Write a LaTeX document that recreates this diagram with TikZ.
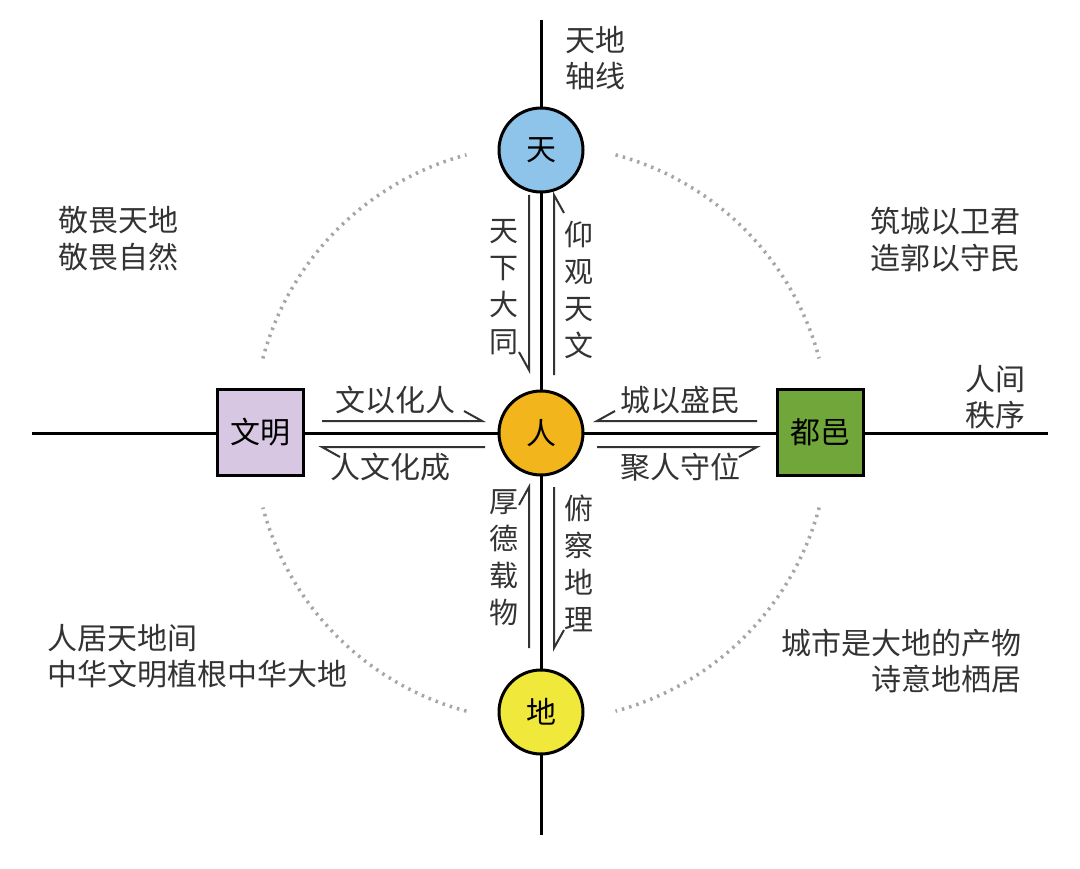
\documentclass[tikz,border=0pt]{standalone}
\usepackage{fontspec}
\newfontfamily\cjk{Noto Sans CJK SC}
\begin{document}
\begin{tikzpicture}[x=1pt,y=-1pt,
  lab/.style={font=\cjk\fontsize{30}{34}\selectfont,text=black!80,inner sep=0pt},
  vlab/.style={lab,align=center,font=\cjk\fontsize{29}{37}\selectfont},
  circ/.style={circle,draw,line width=3pt,minimum size=84pt,font=\cjk\fontsize{30}{34}\selectfont},
  sq/.style={draw,line width=3pt,minimum size=86pt,font=\cjk\fontsize{30}{34}\selectfont},
  axis/.style={line width=3pt},
  thin/.style={line width=2pt,black!80},
  dots/.style={line width=3.5pt,gray!70,dash pattern=on 2.5pt off 5pt}]
\useasboundingbox (0,0) rectangle (1080,869);
\coordinate (axT) at (541,20); \coordinate (axB) at (541,835);
\coordinate (axL) at (32,433); \coordinate (axR) at (1048,433);
\draw[axis] (axT)--(axB); \draw[axis] (axL)--(axR);
\foreach \a in {15,105,195,285} \draw[dots] (541,433) ++(\a:288) arc[start angle=\a,end angle=\a+60,radius=288];
\node[circ,fill={rgb,255:red,142;green,195;blue,234}] (tian) at (541,150) {天};
\node[circ,fill={rgb,255:red,242;green,182;blue,28}] (ren) at (541,433) {人};
\node[circ,fill={rgb,255:red,240;green,232;blue,58}] (di) at (541,712) {地};
\node[sq,fill={rgb,255:red,215;green,199;blue,227}] (wm) at (260,432) {文明};
\node[sq,fill={rgb,255:red,113;green,166;blue,59}] (dy) at (820,432) {都邑};
% half arrows
\draw[thin] (322,421)--(482,421)--++(-18,-10);
\draw[thin] (485,447)--(322,447)--++(18,10);
\draw[thin] (757,421)--(597,421)--++(18,-10);
\draw[thin] (597,447)--(757,447)--++(-18,10);
\draw[thin] (529,195)--(529,370)--++(-10,-18);
\draw[thin] (554,375)--(554,195)--++(10,18);
\draw[thin] (529,648)--(529,487)--++(-10,18);
\draw[thin] (554,487)--(554,648)--++(10,-18);
% labels
\node[lab] (hl1) at (395,400) {文以化人};
\node[lab] (hl2) at (390,467) {人文化成};
\node[lab] (hl3) at (680,400) {城以盛民};
\node[lab] (hl4) at (680,467) {聚人守位};
\node[vlab] (v1) at (504,287) {天\\下\\大\\同};
\node[vlab] (v2) at (579,290) {仰\\观\\天\\文};
\node[vlab] (v3) at (504,558) {厚\\德\\载\\物};
\node[vlab] (v4) at (579,563) {俯\\察\\地\\理};
\node[lab,anchor=west,align=left,font=\cjk\fontsize{30}{36}\selectfont] (t1) at (565,58) {天地\\轴线};
\node[lab,anchor=west,align=left,font=\cjk\fontsize{30}{37}\selectfont] (t2) at (58,239) {敬畏天地\\敬畏自然};
\node[lab,anchor=west,align=left,font=\cjk\fontsize{30}{37}\selectfont] (t3) at (870,240) {筑城以卫君\\造郭以守民};
\node[lab,anchor=west,align=left,font=\cjk\fontsize{30}{36}\selectfont] (t4) at (965,397) {人间\\秩序};
\node[lab,anchor=west,align=left,font=\cjk\fontsize{30}{36}\selectfont] (t5) at (47,656) {人居天地间\\中华文明植根中华大地};
\node[lab,anchor=east,align=right,font=\cjk\fontsize{30}{36}\selectfont] (t6) at (1022,661) {城市是大地的产物\\诗意地栖居};
\end{tikzpicture}
\end{document}
